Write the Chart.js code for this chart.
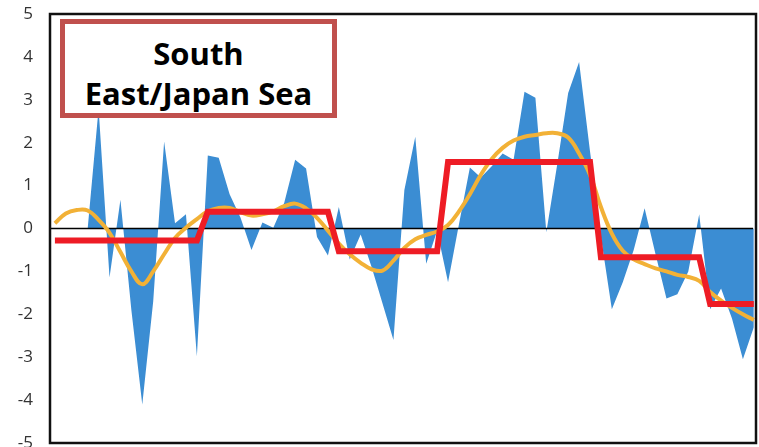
<!DOCTYPE html>
<html>
<head>
<meta charset="utf-8">
<script src="https://cdn.jsdelivr.net/npm/chart.js@4.4.1/dist/chart.umd.min.js"></script>
<style>
  html, body { margin: 0; padding: 0; background: #fff; }
  #wrap { position: relative; width: 759px; height: 447px; }
  #title {
    position: absolute; left: 60px; top: 19px; width: 277px; height: 99px;
    box-sizing: border-box; border: 5px solid #c0504d; background: #fff;
    padding-top: 9px; text-align: center;
    font-family: "Open Sans", "Noto Sans", sans-serif; font-weight: bold;
    font-size: 31px; line-height: 40px; color: #000;
  }
</style>
</head>
<body>
<div id="wrap">
  <canvas id="myChart" width="759" height="447"></canvas>
  <div id="title">South<br>East/Japan Sea</div>
</div>
<script>
// years on the x axis (labels are not shown in the figure)
const years = [1950, 1951, 1952, 1953, 1954, 1955, 1956, 1957, 1958, 1959,
  1960, 1961, 1962, 1963, 1964, 1965, 1966, 1967, 1968, 1969,
  1970, 1971, 1972, 1973, 1974, 1975, 1976, 1977, 1978, 1979,
  1980, 1981, 1982, 1983, 1984, 1985, 1986, 1987, 1988, 1989,
  1990, 1991, 1992, 1993, 1994, 1995, 1996, 1997, 1998, 1999,
  2000, 2001, 2002, 2003, 2004, 2005, 2006, 2007, 2008, 2009,
  2010, 2011, 2012, 2013, 2014];

// yearly anomaly (blue area)
const anomaly = [0.0, 0.0, 0.0, 0.0, 2.8, -1.14, 0.67, -1.9, -4.1, -1.7,
  2.03, 0.12, 0.33, -2.98, 1.7, 1.65, 0.8, 0.25, -0.5, 0.14,
  0.02, 0.6, 1.6, 1.4, -0.2, -0.63, 0.5, -0.72, -0.14, -0.9,
  -1.75, -2.6, 0.9, 2.14, -0.82, -0.05, -1.25, 0.1, 1.42, 1.19,
  1.45, 1.75, 1.6, 3.19, 3.05, -0.09, 1.5, 3.16, 3.88, 1.8,
  -0.2, -1.88, -1.25, -0.5, 0.47, -0.6, -1.63, -1.53, -1.0, 0.33,
  -1.88, -1.4, -2.1, -3.05, -2.3];

// smoothed curve (orange)
const smoothed = [0.12, 0.35, 0.43, 0.42, 0.2, -0.1, -0.55, -1.0, -1.3, -1.0,
  -0.6, -0.22, 0.02, 0.22, 0.4, 0.48, 0.48, 0.38, 0.3, 0.33,
  0.4, 0.52, 0.58, 0.47, 0.25, -0.05, -0.35, -0.6, -0.8, -0.95,
  -0.98, -0.75, -0.45, -0.25, -0.15, -0.07, 0.08, 0.4, 0.8, 1.25,
  1.62, 1.88, 2.05, 2.14, 2.18, 2.22, 2.22, 2.12, 1.75, 1.25,
  0.5, -0.12, -0.52, -0.72, -0.83, -0.93, -1.0, -1.08, -1.13, -1.22,
  -1.48, -1.68, -1.85, -2.0, -2.13];

// regime means (red step line)
const regime = [-0.28, -0.28, -0.28, -0.28, -0.28, -0.28, -0.28, -0.28, -0.28, -0.28,
  -0.28, -0.28, -0.28, -0.28, 0.39, 0.39, 0.39, 0.39, 0.39, 0.39,
  0.39, 0.39, 0.39, 0.39, 0.39, 0.39, -0.53, -0.53, -0.53, -0.53,
  -0.53, -0.53, -0.53, -0.53, -0.53, -0.53, 1.55, 1.55, 1.55, 1.55,
  1.55, 1.55, 1.55, 1.55, 1.55, 1.55, 1.55, 1.55, 1.55, 1.55,
  -0.67, -0.67, -0.67, -0.67, -0.67, -0.67, -0.67, -0.67, -0.67, -0.67,
  -1.76, -1.76, -1.76, -1.76, -1.76];

const yTicks = [-5, -4, -3, -2, -1, 0, 1, 2, 3, 4, 5];

function toPoints(arr) {
  return arr.map((v, i) => ({ x: i, y: v }));
}

// zero line drawn right after the blue area, and the plot frame
const framePlugin = {
  id: 'framePlugin',
  afterDatasetDraw(chart, args) {
    if (args.index !== 0) return;
    const ctx = chart.ctx;
    const area = chart.chartArea;
    const y0 = chart.scales.y.getPixelForValue(0);
    ctx.save();
    ctx.strokeStyle = '#000';
    ctx.lineWidth = 1.5;
    ctx.beginPath();
    ctx.moveTo(area.left, y0);
    ctx.lineTo(area.right - 3, y0);
    ctx.stroke();
    ctx.restore();
  },
  afterDraw(chart) {
    const ctx = chart.ctx;
    const a = chart.chartArea;
    ctx.save();
    ctx.strokeStyle = '#111';
    ctx.lineWidth = 2.5;
    ctx.strokeRect(a.left, a.top, a.right - a.left, a.bottom - a.top);
    ctx.restore();
  }
};

new Chart(document.getElementById('myChart'), {
  type: 'line',
  data: {
    datasets: [
      {
        label: 'Anomaly',
        data: toPoints(anomaly),
        borderWidth: 0,
        backgroundColor: '#3b8dd3',
        fill: 'origin',
        pointRadius: 0,
        tension: 0,
        order: 2
      },
      {
        label: 'Smoothed',
        data: toPoints(smoothed),
        borderColor: '#f2b136',
        borderWidth: 4,
        fill: false,
        pointRadius: 0,
        tension: 0.4,
        order: 1
      },
      {
        label: 'Regime',
        data: toPoints(regime),
        borderColor: '#ee1c25',
        borderWidth: 6,
        fill: false,
        pointRadius: 0,
        tension: 0,
        borderJoinStyle: 'miter',
        order: 0
      }
    ]
  },
  options: {
    responsive: false,
    animation: false,
    layout: { padding: { top: 14, right: 3, bottom: 4, left: 0 } },
    plugins: {
      legend: { display: false },
      tooltip: { enabled: false }
    },
    scales: {
      x: {
        type: 'linear',
        min: -0.45,
        max: 64.2,
        display: false
      },
      y: {
        min: -5,
        max: 5,
        afterFit(scale) {
          scale.width = 50;
          scale.paddingTop = 0;
          scale.paddingBottom = 0;
        },
        afterBuildTicks(scale) { scale.ticks = yTicks.map(v => ({ value: v })); },
        grid: { display: false },
        border: { display: false },
        ticks: {
          padding: 9,
          color: '#333',
          font: { family: 'Open Sans', size: 17 }
        }
      }
    }
  },
  plugins: [framePlugin]
});
</script>
</body>
</html>
